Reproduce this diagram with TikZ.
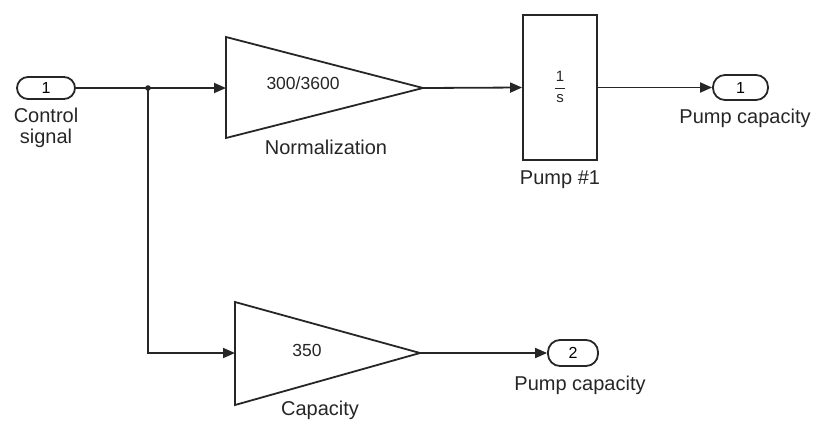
\documentclass[tikz,border=0pt]{standalone}
\usepackage{fontspec}
\setmainfont{Liberation Sans}
\usetikzlibrary{arrows.meta}
\begin{document}
\begin{tikzpicture}[x=1pt,y=-1pt,
  wire/.style={draw=black!85,line width=1.8pt},
  sig/.style={wire,-{Triangle[length=12pt,width=10pt]}},
  blk/.style={draw=black!85,line width=1.8pt,fill=white},
  port/.style={blk,rounded corners=11pt,inner sep=0pt,font=\fontsize{16}{16}\selectfont},
  lbl/.style={font=\fontsize{20}{21}\selectfont,align=center,inner sep=0pt,text=black!85},
  val/.style={font=\fontsize{17.5}{18}\selectfont,inner sep=0pt,text=black!85}]
\useasboundingbox (0,0) rectangle (816,421);
% inport
\node[port,minimum width=58pt,minimum height=22pt] (in1) at (46,88) {1};
\node[lbl] (lin1) at (46,128) {Control\\signal};
\coordinate (j) at (148,88);
\fill[black!85] (j) circle (2.8pt);
% Normalization gain
\coordinate (g1in) at (226,88);
\coordinate (g1out) at (423,88);
\draw[blk] (226,37) -- (g1out) -- (226,138) -- cycle;
\node[val] (g1v) at (303,83) {300/3600};
\node[lbl] (g1l) at (326,147) {Normalization};
% Pump integrator
\node[blk,minimum width=74pt,minimum height=145pt] (pump) at (560,87.5) {};
\node[val,font=\fontsize{15}{15}\selectfont] (num) at (560,76) {1};
\node[val,font=\fontsize{15}{15}\selectfont] (den) at (560,99) {s};
\coordinate (fa) at (555,88);
\coordinate (fb) at (565,88);
\draw[draw=black!85,line width=0.9pt] (fa) -- (fb);
\node[lbl] (pl) at (560,180) {Pump \#1};
% outport 1
\node[port,minimum width=55pt,minimum height=25pt,rounded corners=12pt] (out1) at (740.5,87.5) {1};
\node[lbl] (lo1) at (745,118) {Pump capacity};
% Capacity gain
\coordinate (g2in) at (235,353);
\coordinate (g2out) at (420,353);
\draw[blk] (235,302) -- (g2out) -- (235,405) -- cycle;
\node[val] (g2v) at (307,350) {350};
\node[lbl] (g2l) at (320,410) {Capacity};
% outport 2
\node[port,minimum width=50pt,minimum height=26pt,rounded corners=12pt] (out2) at (573,353) {2};
\node[lbl] (lo2) at (580,385) {Pump capacity};
% connectors
\draw[sig] (in1.east) -- (g1in);
\draw[sig] (g1out) -- (pump.west);
\draw[sig] (pump.east) -- (out1.west);
\draw[sig] (j) |- (g2in);
\draw[sig] (g2out) -- (out2.west);
\end{tikzpicture}
\end{document}
